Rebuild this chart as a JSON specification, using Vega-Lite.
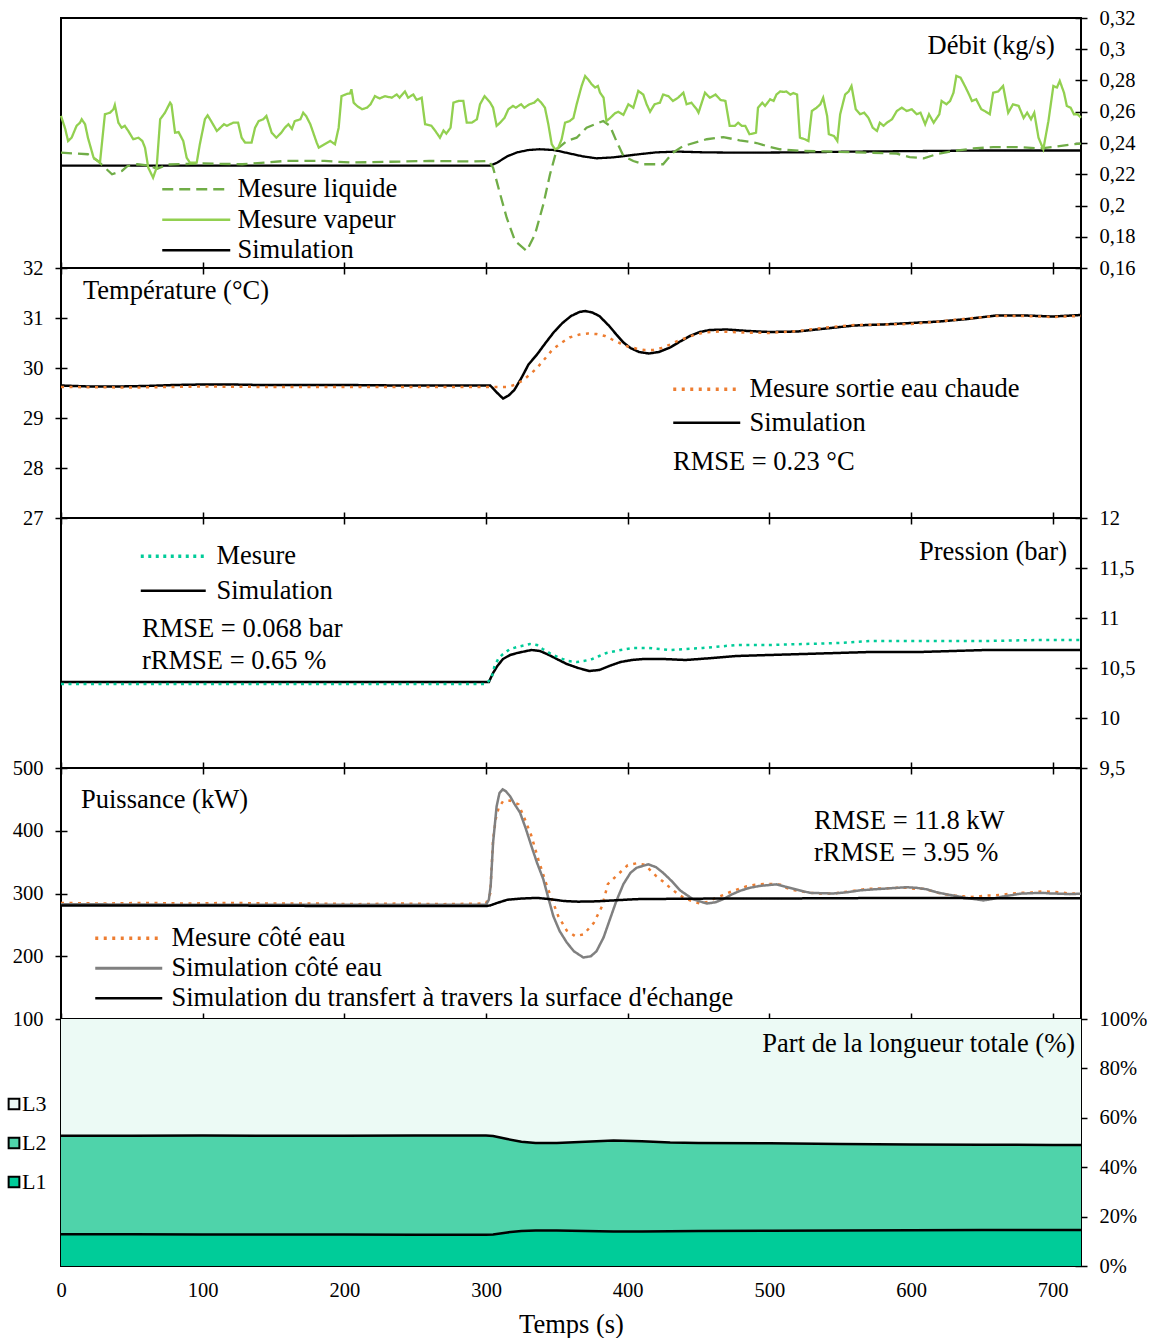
{
"$schema": "https://vega.github.io/schema/vega-lite/v6.json",
"background": "white",
"padding": {"left": 2, "top": 7, "right": 5, "bottom": 5},
"spacing": 0,
"bounds": "flush",
"config": {
  "font": "Liberation Serif",
  "view": {"stroke": "black", "strokeWidth": 2},
  "axis": {"labelFont": "Liberation Serif", "labelFontSize": 20.5, "labelColor": "black", "tickColor": "black", "tickWidth": 1.5, "tickSize": 12, "offset": -6, "grid": false, "domain": false, "labelPadding": 12, "labelOverlap": false, "titleFont": "Liberation Serif", "titleFontWeight": "normal", "titleColor": "black", "titleFontSize": 26.5},
  "legend": {"labelFont": "Liberation Serif", "labelFontSize": 26.5, "labelColor": "black", "padding": 0, "orient": "none", "labelLimit": 0},
  "text": {"font": "Liberation Serif", "fontSize": 26.5, "color": "black"}
},
"datasets": {
"debit": [
{"t":0,"v":0.2255,"s":"Simulation"},{"t":100,"v":0.2255,"s":"Simulation"},{"t":200,"v":0.2255,"s":"Simulation"},{"t":303,"v":0.2255,"s":"Simulation"},{"t":308,"v":0.2275,"s":"Simulation"},{"t":315,"v":0.2315,"s":"Simulation"},{"t":322,"v":0.234,"s":"Simulation"},{"t":330,"v":0.2355,"s":"Simulation"},{"t":338,"v":0.236,"s":"Simulation"},{"t":348,"v":0.2355,"s":"Simulation"},{"t":358,"v":0.2335,"s":"Simulation"},{"t":368,"v":0.2315,"s":"Simulation"},{"t":378,"v":0.2302,"s":"Simulation"},{"t":390,"v":0.2308,"s":"Simulation"},{"t":405,"v":0.2325,"s":"Simulation"},{"t":420,"v":0.234,"s":"Simulation"},{"t":435,"v":0.2345,"s":"Simulation"},{"t":455,"v":0.234,"s":"Simulation"},{"t":480,"v":0.2338,"s":"Simulation"},{"t":520,"v":0.234,"s":"Simulation"},{"t":560,"v":0.2345,"s":"Simulation"},{"t":600,"v":0.2348,"s":"Simulation"},{"t":650,"v":0.2352,"s":"Simulation"},{"t":700,"v":0.2352,"s":"Simulation"},{"t":720,"v":0.2352,"s":"Simulation"},
{"t":0,"v":0.2338,"s":"Mesure liquide"},{"t":19,"v":0.2328,"s":"Mesure liquide"},{"t":26,"v":0.2285,"s":"Mesure liquide"},{"t":31,"v":0.2242,"s":"Mesure liquide"},{"t":36,"v":0.22,"s":"Mesure liquide"},{"t":43,"v":0.2221,"s":"Mesure liquide"},{"t":47,"v":0.2253,"s":"Mesure liquide"},{"t":54,"v":0.2264,"s":"Mesure liquide"},{"t":62,"v":0.2255,"s":"Mesure liquide"},{"t":68,"v":0.2235,"s":"Mesure liquide"},{"t":75,"v":0.2262,"s":"Mesure liquide"},{"t":100,"v":0.2269,"s":"Mesure liquide"},{"t":128,"v":0.2264,"s":"Mesure liquide"},{"t":158,"v":0.2285,"s":"Mesure liquide"},{"t":186,"v":0.2285,"s":"Mesure liquide"},{"t":205,"v":0.2275,"s":"Mesure liquide"},{"t":232,"v":0.228,"s":"Mesure liquide"},{"t":260,"v":0.2285,"s":"Mesure liquide"},{"t":290,"v":0.2282,"s":"Mesure liquide"},{"t":302,"v":0.2285,"s":"Mesure liquide"},{"t":305,"v":0.2242,"s":"Mesure liquide"},{"t":310,"v":0.2072,"s":"Mesure liquide"},{"t":314.6,"v":0.1922,"s":"Mesure liquide"},{"t":320.5,"v":0.1773,"s":"Mesure liquide"},{"t":328.7,"v":0.1709,"s":"Mesure liquide"},{"t":334.6,"v":0.1816,"s":"Mesure liquide"},{"t":340.5,"v":0.2008,"s":"Mesure liquide"},{"t":345.2,"v":0.22,"s":"Mesure liquide"},{"t":350,"v":0.236,"s":"Mesure liquide"},{"t":357,"v":0.2413,"s":"Mesure liquide"},{"t":364,"v":0.2434,"s":"Mesure liquide"},{"t":371,"v":0.2498,"s":"Mesure liquide"},{"t":382.8,"v":0.2541,"s":"Mesure liquide"},{"t":387.5,"v":0.2509,"s":"Mesure liquide"},{"t":392,"v":0.2413,"s":"Mesure liquide"},{"t":397,"v":0.2317,"s":"Mesure liquide"},{"t":404,"v":0.2285,"s":"Mesure liquide"},{"t":411,"v":0.2264,"s":"Mesure liquide"},{"t":425,"v":0.2264,"s":"Mesure liquide"},{"t":432,"v":0.2338,"s":"Mesure liquide"},{"t":439,"v":0.238,"s":"Mesure liquide"},{"t":455.8,"v":0.2424,"s":"Mesure liquide"},{"t":467.5,"v":0.2438,"s":"Mesure liquide"},{"t":479,"v":0.2417,"s":"Mesure liquide"},{"t":491,"v":0.24,"s":"Mesure liquide"},{"t":500.6,"v":0.2374,"s":"Mesure liquide"},{"t":507.6,"v":0.236,"s":"Mesure liquide"},{"t":524,"v":0.2349,"s":"Mesure liquide"},{"t":548,"v":0.2344,"s":"Mesure liquide"},{"t":571,"v":0.2338,"s":"Mesure liquide"},{"t":590,"v":0.2332,"s":"Mesure liquide"},{"t":599,"v":0.231,"s":"Mesure liquide"},{"t":609,"v":0.2302,"s":"Mesure liquide"},{"t":618,"v":0.2328,"s":"Mesure liquide"},{"t":630,"v":0.2349,"s":"Mesure liquide"},{"t":644,"v":0.2365,"s":"Mesure liquide"},{"t":658,"v":0.2374,"s":"Mesure liquide"},{"t":677,"v":0.2374,"s":"Mesure liquide"},{"t":691,"v":0.2365,"s":"Mesure liquide"},{"t":700,"v":0.2374,"s":"Mesure liquide"},{"t":715,"v":0.2392,"s":"Mesure liquide"},{"t":720,"v":0.2396,"s":"Mesure liquide"},
{"t":0,"v":0.2573,"s":"Mesure vapeur"},{"t":3,"v":0.249,"s":"Mesure vapeur"},{"t":5,"v":0.2413,"s":"Mesure vapeur"},{"t":7.5,"v":0.2434,"s":"Mesure vapeur"},{"t":11,"v":0.251,"s":"Mesure vapeur"},{"t":13.4,"v":0.253,"s":"Mesure vapeur"},{"t":14.6,"v":0.2552,"s":"Mesure vapeur"},{"t":17,"v":0.252,"s":"Mesure vapeur"},{"t":19,"v":0.2434,"s":"Mesure vapeur"},{"t":23,"v":0.2306,"s":"Mesure vapeur"},{"t":27.5,"v":0.2274,"s":"Mesure vapeur"},{"t":31,"v":0.2584,"s":"Mesure vapeur"},{"t":34.6,"v":0.2594,"s":"Mesure vapeur"},{"t":37,"v":0.2616,"s":"Mesure vapeur"},{"t":38,"v":0.2643,"s":"Mesure vapeur"},{"t":40.5,"v":0.253,"s":"Mesure vapeur"},{"t":42.8,"v":0.2498,"s":"Mesure vapeur"},{"t":45,"v":0.251,"s":"Mesure vapeur"},{"t":47.5,"v":0.2477,"s":"Mesure vapeur"},{"t":51,"v":0.2424,"s":"Mesure vapeur"},{"t":54.6,"v":0.2434,"s":"Mesure vapeur"},{"t":57.4,"v":0.2413,"s":"Mesure vapeur"},{"t":59.3,"v":0.237,"s":"Mesure vapeur"},{"t":61.6,"v":0.2242,"s":"Mesure vapeur"},{"t":65,"v":0.2178,"s":"Mesure vapeur"},{"t":67.5,"v":0.2242,"s":"Mesure vapeur"},{"t":70,"v":0.2552,"s":"Mesure vapeur"},{"t":73.4,"v":0.2594,"s":"Mesure vapeur"},{"t":77,"v":0.2658,"s":"Mesure vapeur"},{"t":78,"v":0.2645,"s":"Mesure vapeur"},{"t":80.5,"v":0.2466,"s":"Mesure vapeur"},{"t":83,"v":0.247,"s":"Mesure vapeur"},{"t":86.3,"v":0.2413,"s":"Mesure vapeur"},{"t":88.7,"v":0.2306,"s":"Mesure vapeur"},{"t":91,"v":0.2274,"s":"Mesure vapeur"},{"t":95.8,"v":0.2274,"s":"Mesure vapeur"},{"t":98,"v":0.2392,"s":"Mesure vapeur"},{"t":101.6,"v":0.2552,"s":"Mesure vapeur"},{"t":103.5,"v":0.2577,"s":"Mesure vapeur"},{"t":106,"v":0.254,"s":"Mesure vapeur"},{"t":110,"v":0.2477,"s":"Mesure vapeur"},{"t":112.5,"v":0.2498,"s":"Mesure vapeur"},{"t":115,"v":0.252,"s":"Mesure vapeur"},{"t":117,"v":0.251,"s":"Mesure vapeur"},{"t":121.6,"v":0.253,"s":"Mesure vapeur"},{"t":125,"v":0.253,"s":"Mesure vapeur"},{"t":127.5,"v":0.2434,"s":"Mesure vapeur"},{"t":130,"v":0.2402,"s":"Mesure vapeur"},{"t":134.5,"v":0.2402,"s":"Mesure vapeur"},{"t":137,"v":0.2498,"s":"Mesure vapeur"},{"t":139.5,"v":0.254,"s":"Mesure vapeur"},{"t":142.8,"v":0.2552,"s":"Mesure vapeur"},{"t":145,"v":0.2573,"s":"Mesure vapeur"},{"t":148.7,"v":0.2466,"s":"Mesure vapeur"},{"t":152,"v":0.2434,"s":"Mesure vapeur"},{"t":155.5,"v":0.2466,"s":"Mesure vapeur"},{"t":158,"v":0.2498,"s":"Mesure vapeur"},{"t":160.5,"v":0.252,"s":"Mesure vapeur"},{"t":163,"v":0.249,"s":"Mesure vapeur"},{"t":165,"v":0.254,"s":"Mesure vapeur"},{"t":169,"v":0.2552,"s":"Mesure vapeur"},{"t":171,"v":0.2594,"s":"Mesure vapeur"},{"t":173,"v":0.2573,"s":"Mesure vapeur"},{"t":176,"v":0.252,"s":"Mesure vapeur"},{"t":180.5,"v":0.2402,"s":"Mesure vapeur"},{"t":182,"v":0.237,"s":"Mesure vapeur"},{"t":186,"v":0.2392,"s":"Mesure vapeur"},{"t":190,"v":0.2413,"s":"Mesure vapeur"},{"t":193.4,"v":0.2392,"s":"Mesure vapeur"},{"t":196,"v":0.2498,"s":"Mesure vapeur"},{"t":198,"v":0.27,"s":"Mesure vapeur"},{"t":202,"v":0.2715,"s":"Mesure vapeur"},{"t":204,"v":0.2717,"s":"Mesure vapeur"},{"t":205,"v":0.2744,"s":"Mesure vapeur"},{"t":206.6,"v":0.2658,"s":"Mesure vapeur"},{"t":209,"v":0.2637,"s":"Mesure vapeur"},{"t":212.5,"v":0.2616,"s":"Mesure vapeur"},{"t":216,"v":0.2626,"s":"Mesure vapeur"},{"t":218.5,"v":0.2648,"s":"Mesure vapeur"},{"t":221.6,"v":0.27,"s":"Mesure vapeur"},{"t":225,"v":0.2685,"s":"Mesure vapeur"},{"t":228.7,"v":0.27,"s":"Mesure vapeur"},{"t":233.4,"v":0.269,"s":"Mesure vapeur"},{"t":237,"v":0.271,"s":"Mesure vapeur"},{"t":239,"v":0.269,"s":"Mesure vapeur"},{"t":242.8,"v":0.273,"s":"Mesure vapeur"},{"t":245,"v":0.269,"s":"Mesure vapeur"},{"t":248.7,"v":0.271,"s":"Mesure vapeur"},{"t":251,"v":0.2676,"s":"Mesure vapeur"},{"t":254.6,"v":0.269,"s":"Mesure vapeur"},{"t":257,"v":0.252,"s":"Mesure vapeur"},{"t":261.5,"v":0.251,"s":"Mesure vapeur"},{"t":264,"v":0.248,"s":"Mesure vapeur"},{"t":267.5,"v":0.2434,"s":"Mesure vapeur"},{"t":270,"v":0.248,"s":"Mesure vapeur"},{"t":272,"v":0.246,"s":"Mesure vapeur"},{"t":275,"v":0.2498,"s":"Mesure vapeur"},{"t":277,"v":0.2658,"s":"Mesure vapeur"},{"t":280.6,"v":0.2669,"s":"Mesure vapeur"},{"t":284,"v":0.267,"s":"Mesure vapeur"},{"t":286.4,"v":0.253,"s":"Mesure vapeur"},{"t":290,"v":0.253,"s":"Mesure vapeur"},{"t":293.6,"v":0.2552,"s":"Mesure vapeur"},{"t":295.8,"v":0.2648,"s":"Mesure vapeur"},{"t":299,"v":0.27,"s":"Mesure vapeur"},{"t":303,"v":0.2658,"s":"Mesure vapeur"},{"t":305,"v":0.2626,"s":"Mesure vapeur"},{"t":307.5,"v":0.251,"s":"Mesure vapeur"},{"t":310,"v":0.253,"s":"Mesure vapeur"},{"t":313,"v":0.256,"s":"Mesure vapeur"},{"t":315.8,"v":0.2616,"s":"Mesure vapeur"},{"t":319,"v":0.2637,"s":"Mesure vapeur"},{"t":321,"v":0.2626,"s":"Mesure vapeur"},{"t":324.8,"v":0.2648,"s":"Mesure vapeur"},{"t":327,"v":0.2626,"s":"Mesure vapeur"},{"t":330.7,"v":0.2648,"s":"Mesure vapeur"},{"t":334,"v":0.2658,"s":"Mesure vapeur"},{"t":336.6,"v":0.268,"s":"Mesure vapeur"},{"t":339,"v":0.2658,"s":"Mesure vapeur"},{"t":341.6,"v":0.2626,"s":"Mesure vapeur"},{"t":344,"v":0.252,"s":"Mesure vapeur"},{"t":346.4,"v":0.2392,"s":"Mesure vapeur"},{"t":348.7,"v":0.236,"s":"Mesure vapeur"},{"t":351,"v":0.237,"s":"Mesure vapeur"},{"t":353.4,"v":0.2424,"s":"Mesure vapeur"},{"t":355.8,"v":0.253,"s":"Mesure vapeur"},{"t":359,"v":0.254,"s":"Mesure vapeur"},{"t":361.7,"v":0.256,"s":"Mesure vapeur"},{"t":364,"v":0.2648,"s":"Mesure vapeur"},{"t":367.5,"v":0.2765,"s":"Mesure vapeur"},{"t":370,"v":0.2829,"s":"Mesure vapeur"},{"t":372,"v":0.2808,"s":"Mesure vapeur"},{"t":374.6,"v":0.2776,"s":"Mesure vapeur"},{"t":377,"v":0.2755,"s":"Mesure vapeur"},{"t":379,"v":0.2765,"s":"Mesure vapeur"},{"t":380.5,"v":0.2722,"s":"Mesure vapeur"},{"t":383,"v":0.269,"s":"Mesure vapeur"},{"t":385,"v":0.254,"s":"Mesure vapeur"},{"t":387.6,"v":0.256,"s":"Mesure vapeur"},{"t":391,"v":0.259,"s":"Mesure vapeur"},{"t":393.4,"v":0.26,"s":"Mesure vapeur"},{"t":397,"v":0.258,"s":"Mesure vapeur"},{"t":400.5,"v":0.2648,"s":"Mesure vapeur"},{"t":404,"v":0.2626,"s":"Mesure vapeur"},{"t":407.5,"v":0.2733,"s":"Mesure vapeur"},{"t":411,"v":0.271,"s":"Mesure vapeur"},{"t":413.4,"v":0.2648,"s":"Mesure vapeur"},{"t":415.8,"v":0.26,"s":"Mesure vapeur"},{"t":419,"v":0.2648,"s":"Mesure vapeur"},{"t":422.8,"v":0.2658,"s":"Mesure vapeur"},{"t":425,"v":0.271,"s":"Mesure vapeur"},{"t":428.7,"v":0.27,"s":"Mesure vapeur"},{"t":432,"v":0.2669,"s":"Mesure vapeur"},{"t":435.6,"v":0.269,"s":"Mesure vapeur"},{"t":439.3,"v":0.2722,"s":"Mesure vapeur"},{"t":441.6,"v":0.2648,"s":"Mesure vapeur"},{"t":445,"v":0.2658,"s":"Mesure vapeur"},{"t":448.7,"v":0.2616,"s":"Mesure vapeur"},{"t":450,"v":0.2594,"s":"Mesure vapeur"},{"t":454.6,"v":0.2722,"s":"Mesure vapeur"},{"t":458,"v":0.269,"s":"Mesure vapeur"},{"t":462,"v":0.271,"s":"Mesure vapeur"},{"t":465.5,"v":0.2676,"s":"Mesure vapeur"},{"t":469,"v":0.2669,"s":"Mesure vapeur"},{"t":472,"v":0.251,"s":"Mesure vapeur"},{"t":475.7,"v":0.251,"s":"Mesure vapeur"},{"t":478,"v":0.253,"s":"Mesure vapeur"},{"t":480.5,"v":0.251,"s":"Mesure vapeur"},{"t":483,"v":0.251,"s":"Mesure vapeur"},{"t":486,"v":0.2456,"s":"Mesure vapeur"},{"t":490.6,"v":0.2466,"s":"Mesure vapeur"},{"t":492,"v":0.2626,"s":"Mesure vapeur"},{"t":495,"v":0.2658,"s":"Mesure vapeur"},{"t":497,"v":0.2637,"s":"Mesure vapeur"},{"t":500.6,"v":0.268,"s":"Mesure vapeur"},{"t":503,"v":0.2669,"s":"Mesure vapeur"},{"t":505,"v":0.271,"s":"Mesure vapeur"},{"t":507.6,"v":0.273,"s":"Mesure vapeur"},{"t":510,"v":0.2727,"s":"Mesure vapeur"},{"t":512,"v":0.273,"s":"Mesure vapeur"},{"t":514.8,"v":0.271,"s":"Mesure vapeur"},{"t":517,"v":0.272,"s":"Mesure vapeur"},{"t":519.6,"v":0.271,"s":"Mesure vapeur"},{"t":521.6,"v":0.2434,"s":"Mesure vapeur"},{"t":525,"v":0.2424,"s":"Mesure vapeur"},{"t":527.6,"v":0.2413,"s":"Mesure vapeur"},{"t":530,"v":0.2605,"s":"Mesure vapeur"},{"t":533.4,"v":0.2626,"s":"Mesure vapeur"},{"t":536,"v":0.2648,"s":"Mesure vapeur"},{"t":538,"v":0.269,"s":"Mesure vapeur"},{"t":540.8,"v":0.2573,"s":"Mesure vapeur"},{"t":542,"v":0.2456,"s":"Mesure vapeur"},{"t":545.6,"v":0.2445,"s":"Mesure vapeur"},{"t":548,"v":0.2413,"s":"Mesure vapeur"},{"t":550,"v":0.2584,"s":"Mesure vapeur"},{"t":553.5,"v":0.271,"s":"Mesure vapeur"},{"t":556,"v":0.273,"s":"Mesure vapeur"},{"t":558,"v":0.2765,"s":"Mesure vapeur"},{"t":561,"v":0.2616,"s":"Mesure vapeur"},{"t":564,"v":0.2584,"s":"Mesure vapeur"},{"t":567,"v":0.2594,"s":"Mesure vapeur"},{"t":570,"v":0.256,"s":"Mesure vapeur"},{"t":573,"v":0.2498,"s":"Mesure vapeur"},{"t":576,"v":0.2477,"s":"Mesure vapeur"},{"t":578,"v":0.253,"s":"Mesure vapeur"},{"t":580.6,"v":0.251,"s":"Mesure vapeur"},{"t":583,"v":0.253,"s":"Mesure vapeur"},{"t":586.6,"v":0.2552,"s":"Mesure vapeur"},{"t":590,"v":0.2605,"s":"Mesure vapeur"},{"t":593.5,"v":0.2626,"s":"Mesure vapeur"},{"t":597,"v":0.2605,"s":"Mesure vapeur"},{"t":600.6,"v":0.2616,"s":"Mesure vapeur"},{"t":604,"v":0.2584,"s":"Mesure vapeur"},{"t":606.7,"v":0.2594,"s":"Mesure vapeur"},{"t":610,"v":0.252,"s":"Mesure vapeur"},{"t":612.7,"v":0.2584,"s":"Mesure vapeur"},{"t":616,"v":0.253,"s":"Mesure vapeur"},{"t":620,"v":0.2584,"s":"Mesure vapeur"},{"t":621.6,"v":0.2669,"s":"Mesure vapeur"},{"t":625,"v":0.2648,"s":"Mesure vapeur"},{"t":627.6,"v":0.2669,"s":"Mesure vapeur"},{"t":630,"v":0.2722,"s":"Mesure vapeur"},{"t":632,"v":0.2829,"s":"Mesure vapeur"},{"t":635,"v":0.2818,"s":"Mesure vapeur"},{"t":638.6,"v":0.2755,"s":"Mesure vapeur"},{"t":641,"v":0.271,"s":"Mesure vapeur"},{"t":643,"v":0.2669,"s":"Mesure vapeur"},{"t":646,"v":0.268,"s":"Mesure vapeur"},{"t":649.6,"v":0.2616,"s":"Mesure vapeur"},{"t":652,"v":0.2605,"s":"Mesure vapeur"},{"t":655.6,"v":0.2584,"s":"Mesure vapeur"},{"t":658,"v":0.2722,"s":"Mesure vapeur"},{"t":661.6,"v":0.273,"s":"Mesure vapeur"},{"t":665,"v":0.2765,"s":"Mesure vapeur"},{"t":668.6,"v":0.2594,"s":"Mesure vapeur"},{"t":672,"v":0.2648,"s":"Mesure vapeur"},{"t":676,"v":0.2637,"s":"Mesure vapeur"},{"t":679.5,"v":0.256,"s":"Mesure vapeur"},{"t":682,"v":0.2594,"s":"Mesure vapeur"},{"t":684.7,"v":0.2552,"s":"Mesure vapeur"},{"t":687,"v":0.2594,"s":"Mesure vapeur"},{"t":690,"v":0.2434,"s":"Mesure vapeur"},{"t":693.4,"v":0.236,"s":"Mesure vapeur"},{"t":697,"v":0.254,"s":"Mesure vapeur"},{"t":700.5,"v":0.2765,"s":"Mesure vapeur"},{"t":703,"v":0.2755,"s":"Mesure vapeur"},{"t":705,"v":0.2797,"s":"Mesure vapeur"},{"t":708,"v":0.2722,"s":"Mesure vapeur"},{"t":710,"v":0.2637,"s":"Mesure vapeur"},{"t":712.7,"v":0.2626,"s":"Mesure vapeur"},{"t":715,"v":0.2584,"s":"Mesure vapeur"},{"t":717.6,"v":0.2584,"s":"Mesure vapeur"},{"t":720,"v":0.2562,"s":"Mesure vapeur"}
],
"temp": [
{"t":0,"v":29.65,"s":"Simulation"},{"t":20,"v":29.63,"s":"Simulation"},{"t":40,"v":29.63,"s":"Simulation"},{"t":60,"v":29.64,"s":"Simulation"},{"t":80,"v":29.66,"s":"Simulation"},{"t":100,"v":29.67,"s":"Simulation"},{"t":120,"v":29.67,"s":"Simulation"},{"t":140,"v":29.66,"s":"Simulation"},{"t":200,"v":29.66,"s":"Simulation"},{"t":240,"v":29.65,"s":"Simulation"},{"t":280,"v":29.65,"s":"Simulation"},{"t":303,"v":29.65,"s":"Simulation"},{"t":308,"v":29.5,"s":"Simulation"},{"t":312,"v":29.39,"s":"Simulation"},{"t":316,"v":29.45,"s":"Simulation"},{"t":320,"v":29.56,"s":"Simulation"},{"t":325,"v":29.8,"s":"Simulation"},{"t":330,"v":30.07,"s":"Simulation"},{"t":336,"v":30.27,"s":"Simulation"},{"t":342,"v":30.5,"s":"Simulation"},{"t":348,"v":30.72,"s":"Simulation"},{"t":354,"v":30.9,"s":"Simulation"},{"t":360,"v":31.04,"s":"Simulation"},{"t":366,"v":31.12,"s":"Simulation"},{"t":370,"v":31.14,"s":"Simulation"},{"t":375,"v":31.11,"s":"Simulation"},{"t":380,"v":31.04,"s":"Simulation"},{"t":387,"v":30.84,"s":"Simulation"},{"t":392,"v":30.67,"s":"Simulation"},{"t":397,"v":30.51,"s":"Simulation"},{"t":402,"v":30.4,"s":"Simulation"},{"t":408,"v":30.32,"s":"Simulation"},{"t":415,"v":30.29,"s":"Simulation"},{"t":422,"v":30.32,"s":"Simulation"},{"t":430,"v":30.41,"s":"Simulation"},{"t":437,"v":30.53,"s":"Simulation"},{"t":444,"v":30.64,"s":"Simulation"},{"t":451,"v":30.72,"s":"Simulation"},{"t":458,"v":30.76,"s":"Simulation"},{"t":470,"v":30.77,"s":"Simulation"},{"t":485,"v":30.74,"s":"Simulation"},{"t":500,"v":30.72,"s":"Simulation"},{"t":520,"v":30.73,"s":"Simulation"},{"t":540,"v":30.79,"s":"Simulation"},{"t":560,"v":30.85,"s":"Simulation"},{"t":580,"v":30.87,"s":"Simulation"},{"t":600,"v":30.9,"s":"Simulation"},{"t":620,"v":30.93,"s":"Simulation"},{"t":640,"v":30.98,"s":"Simulation"},{"t":660,"v":31.05,"s":"Simulation"},{"t":680,"v":31.05,"s":"Simulation"},{"t":700,"v":31.03,"s":"Simulation"},{"t":720,"v":31.06,"s":"Simulation"},
{"t":0,"v":29.62,"s":"Mesure sortie eau chaude"},{"t":50,"v":29.61,"s":"Mesure sortie eau chaude"},{"t":100,"v":29.63,"s":"Mesure sortie eau chaude"},{"t":150,"v":29.62,"s":"Mesure sortie eau chaude"},{"t":200,"v":29.62,"s":"Mesure sortie eau chaude"},{"t":250,"v":29.62,"s":"Mesure sortie eau chaude"},{"t":300,"v":29.62,"s":"Mesure sortie eau chaude"},{"t":315,"v":29.62,"s":"Mesure sortie eau chaude"},{"t":320,"v":29.66,"s":"Mesure sortie eau chaude"},{"t":326,"v":29.75,"s":"Mesure sortie eau chaude"},{"t":331,"v":29.87,"s":"Mesure sortie eau chaude"},{"t":336,"v":30.0,"s":"Mesure sortie eau chaude"},{"t":342,"v":30.2,"s":"Mesure sortie eau chaude"},{"t":347,"v":30.37,"s":"Mesure sortie eau chaude"},{"t":353,"v":30.5,"s":"Mesure sortie eau chaude"},{"t":359,"v":30.61,"s":"Mesure sortie eau chaude"},{"t":366,"v":30.67,"s":"Mesure sortie eau chaude"},{"t":372,"v":30.69,"s":"Mesure sortie eau chaude"},{"t":378,"v":30.68,"s":"Mesure sortie eau chaude"},{"t":384,"v":30.64,"s":"Mesure sortie eau chaude"},{"t":389,"v":30.57,"s":"Mesure sortie eau chaude"},{"t":395,"v":30.49,"s":"Mesure sortie eau chaude"},{"t":400,"v":30.43,"s":"Mesure sortie eau chaude"},{"t":406,"v":30.39,"s":"Mesure sortie eau chaude"},{"t":412,"v":30.36,"s":"Mesure sortie eau chaude"},{"t":418,"v":30.36,"s":"Mesure sortie eau chaude"},{"t":424,"v":30.4,"s":"Mesure sortie eau chaude"},{"t":430,"v":30.47,"s":"Mesure sortie eau chaude"},{"t":436,"v":30.55,"s":"Mesure sortie eau chaude"},{"t":442,"v":30.61,"s":"Mesure sortie eau chaude"},{"t":448,"v":30.67,"s":"Mesure sortie eau chaude"},{"t":454,"v":30.71,"s":"Mesure sortie eau chaude"},{"t":465,"v":30.73,"s":"Mesure sortie eau chaude"},{"t":480,"v":30.71,"s":"Mesure sortie eau chaude"},{"t":500,"v":30.7,"s":"Mesure sortie eau chaude"},{"t":520,"v":30.74,"s":"Mesure sortie eau chaude"},{"t":540,"v":30.81,"s":"Mesure sortie eau chaude"},{"t":560,"v":30.86,"s":"Mesure sortie eau chaude"},{"t":580,"v":30.87,"s":"Mesure sortie eau chaude"},{"t":600,"v":30.88,"s":"Mesure sortie eau chaude"},{"t":620,"v":30.93,"s":"Mesure sortie eau chaude"},{"t":640,"v":30.99,"s":"Mesure sortie eau chaude"},{"t":660,"v":31.04,"s":"Mesure sortie eau chaude"},{"t":680,"v":31.04,"s":"Mesure sortie eau chaude"},{"t":700,"v":31.02,"s":"Mesure sortie eau chaude"},{"t":720,"v":31.04,"s":"Mesure sortie eau chaude"}
],
"pres": [
{"t":0,"v":10.36,"s":"Simulation"},{"t":100,"v":10.36,"s":"Simulation"},{"t":200,"v":10.36,"s":"Simulation"},{"t":302,"v":10.36,"s":"Simulation"},{"t":305,"v":10.45,"s":"Simulation"},{"t":308,"v":10.52,"s":"Simulation"},{"t":312,"v":10.59,"s":"Simulation"},{"t":317,"v":10.63,"s":"Simulation"},{"t":322,"v":10.65,"s":"Simulation"},{"t":332,"v":10.68,"s":"Simulation"},{"t":338,"v":10.67,"s":"Simulation"},{"t":343,"v":10.64,"s":"Simulation"},{"t":350,"v":10.59,"s":"Simulation"},{"t":357,"v":10.54,"s":"Simulation"},{"t":365,"v":10.5,"s":"Simulation"},{"t":373,"v":10.47,"s":"Simulation"},{"t":380,"v":10.48,"s":"Simulation"},{"t":387,"v":10.52,"s":"Simulation"},{"t":395,"v":10.56,"s":"Simulation"},{"t":403,"v":10.58,"s":"Simulation"},{"t":411,"v":10.59,"s":"Simulation"},{"t":425,"v":10.59,"s":"Simulation"},{"t":441,"v":10.58,"s":"Simulation"},{"t":460,"v":10.6,"s":"Simulation"},{"t":477,"v":10.62,"s":"Simulation"},{"t":500,"v":10.63,"s":"Simulation"},{"t":524,"v":10.64,"s":"Simulation"},{"t":571,"v":10.66,"s":"Simulation"},{"t":606,"v":10.66,"s":"Simulation"},{"t":653,"v":10.68,"s":"Simulation"},{"t":690,"v":10.68,"s":"Simulation"},{"t":720,"v":10.68,"s":"Simulation"},
{"t":0,"v":10.34,"s":"Mesure"},{"t":100,"v":10.34,"s":"Mesure"},{"t":200,"v":10.34,"s":"Mesure"},{"t":300,"v":10.34,"s":"Mesure"},{"t":304,"v":10.4,"s":"Mesure"},{"t":306,"v":10.52,"s":"Mesure"},{"t":309,"v":10.6,"s":"Mesure"},{"t":312,"v":10.64,"s":"Mesure"},{"t":317,"v":10.69,"s":"Mesure"},{"t":322,"v":10.71,"s":"Mesure"},{"t":331,"v":10.74,"s":"Mesure"},{"t":336,"v":10.73,"s":"Mesure"},{"t":340,"v":10.69,"s":"Mesure"},{"t":346,"v":10.64,"s":"Mesure"},{"t":352,"v":10.6,"s":"Mesure"},{"t":358,"v":10.57,"s":"Mesure"},{"t":364,"v":10.56,"s":"Mesure"},{"t":369,"v":10.57,"s":"Mesure"},{"t":375,"v":10.59,"s":"Mesure"},{"t":380,"v":10.62,"s":"Mesure"},{"t":385,"v":10.65,"s":"Mesure"},{"t":395,"v":10.68,"s":"Mesure"},{"t":404,"v":10.7,"s":"Mesure"},{"t":415,"v":10.7,"s":"Mesure"},{"t":430,"v":10.68,"s":"Mesure"},{"t":453,"v":10.7,"s":"Mesure"},{"t":477,"v":10.73,"s":"Mesure"},{"t":500,"v":10.73,"s":"Mesure"},{"t":524,"v":10.74,"s":"Mesure"},{"t":550,"v":10.75,"s":"Mesure"},{"t":571,"v":10.77,"s":"Mesure"},{"t":600,"v":10.77,"s":"Mesure"},{"t":618,"v":10.77,"s":"Mesure"},{"t":653,"v":10.77,"s":"Mesure"},{"t":690,"v":10.78,"s":"Mesure"},{"t":720,"v":10.78,"s":"Mesure"}
],
"puis": [
{"t":0,"v":285,"s":"Mesure côté eau"},{"t":30,"v":284,"s":"Mesure côté eau"},{"t":60,"v":285,"s":"Mesure côté eau"},{"t":90,"v":284,"s":"Mesure côté eau"},{"t":120,"v":285,"s":"Mesure côté eau"},{"t":150,"v":284,"s":"Mesure côté eau"},{"t":180,"v":284,"s":"Mesure côté eau"},{"t":210,"v":283,"s":"Mesure côté eau"},{"t":240,"v":284,"s":"Mesure côté eau"},{"t":270,"v":283,"s":"Mesure côté eau"},{"t":300,"v":284,"s":"Mesure côté eau"},{"t":303,"v":300,"s":"Mesure côté eau"},{"t":305,"v":386,"s":"Mesure côté eau"},{"t":307,"v":420,"s":"Mesure côté eau"},{"t":309,"v":437,"s":"Mesure côté eau"},{"t":312,"v":447,"s":"Mesure côté eau"},{"t":317,"v":448,"s":"Mesure côté eau"},{"t":323,"v":442,"s":"Mesure côté eau"},{"t":327.5,"v":418,"s":"Mesure côté eau"},{"t":332,"v":392,"s":"Mesure côté eau"},{"t":337,"v":354,"s":"Mesure côté eau"},{"t":343,"v":312,"s":"Mesure côté eau"},{"t":351,"v":264,"s":"Mesure côté eau"},{"t":357,"v":241,"s":"Mesure côté eau"},{"t":363,"v":232,"s":"Mesure côté eau"},{"t":369,"v":235,"s":"Mesure côté eau"},{"t":376,"v":253,"s":"Mesure côté eau"},{"t":382,"v":280,"s":"Mesure côté eau"},{"t":386,"v":315,"s":"Mesure côté eau"},{"t":392,"v":328,"s":"Mesure côté eau"},{"t":400,"v":345,"s":"Mesure côté eau"},{"t":406,"v":348,"s":"Mesure côté eau"},{"t":412,"v":346,"s":"Mesure côté eau"},{"t":420,"v":328,"s":"Mesure côté eau"},{"t":425,"v":319,"s":"Mesure côté eau"},{"t":430,"v":309,"s":"Mesure côté eau"},{"t":435,"v":300,"s":"Mesure côté eau"},{"t":439,"v":294,"s":"Mesure côté eau"},{"t":445,"v":288,"s":"Mesure côté eau"},{"t":451,"v":284,"s":"Mesure côté eau"},{"t":457,"v":287,"s":"Mesure côté eau"},{"t":462,"v":293,"s":"Mesure côté eau"},{"t":468,"v":298,"s":"Mesure côté eau"},{"t":472,"v":302,"s":"Mesure côté eau"},{"t":478,"v":307,"s":"Mesure côté eau"},{"t":484,"v":311.5,"s":"Mesure côté eau"},{"t":490,"v":314,"s":"Mesure côté eau"},{"t":496,"v":315,"s":"Mesure côté eau"},{"t":502,"v":315,"s":"Mesure côté eau"},{"t":508,"v":314,"s":"Mesure côté eau"},{"t":512,"v":309,"s":"Mesure côté eau"},{"t":518,"v":305,"s":"Mesure côté eau"},{"t":524,"v":303,"s":"Mesure côté eau"},{"t":529,"v":301,"s":"Mesure côté eau"},{"t":535,"v":300,"s":"Mesure côté eau"},{"t":546,"v":300,"s":"Mesure côté eau"},{"t":552,"v":302,"s":"Mesure côté eau"},{"t":558,"v":303.6,"s":"Mesure côté eau"},{"t":564,"v":306,"s":"Mesure côté eau"},{"t":570,"v":307.4,"s":"Mesure côté eau"},{"t":580,"v":308,"s":"Mesure côté eau"},{"t":591,"v":309,"s":"Mesure côté eau"},{"t":597,"v":309,"s":"Mesure côté eau"},{"t":603,"v":307.4,"s":"Mesure côté eau"},{"t":609,"v":307.4,"s":"Mesure côté eau"},{"t":613,"v":305,"s":"Mesure côté eau"},{"t":619,"v":301,"s":"Mesure côté eau"},{"t":625,"v":298.3,"s":"Mesure côté eau"},{"t":631,"v":296.7,"s":"Mesure côté eau"},{"t":637,"v":295.6,"s":"Mesure côté eau"},{"t":643,"v":294.6,"s":"Mesure côté eau"},{"t":649,"v":295.6,"s":"Mesure côté eau"},{"t":653,"v":296.7,"s":"Mesure côté eau"},{"t":659,"v":297.2,"s":"Mesure côté eau"},{"t":665,"v":298.3,"s":"Mesure côté eau"},{"t":671,"v":300,"s":"Mesure côté eau"},{"t":677,"v":301,"s":"Mesure côté eau"},{"t":683,"v":301,"s":"Mesure côté eau"},{"t":689,"v":302.6,"s":"Mesure côté eau"},{"t":693,"v":303.6,"s":"Mesure côté eau"},{"t":699,"v":302.6,"s":"Mesure côté eau"},{"t":705,"v":302,"s":"Mesure côté eau"},{"t":711,"v":300,"s":"Mesure côté eau"},{"t":720,"v":300,"s":"Mesure côté eau"},
{"t":0,"v":283,"s":"Simulation côté eau"},{"t":100,"v":282,"s":"Simulation côté eau"},{"t":200,"v":282,"s":"Simulation côté eau"},{"t":300,"v":282,"s":"Simulation côté eau"},{"t":302,"v":290,"s":"Simulation côté eau"},{"t":303.3,"v":312,"s":"Simulation côté eau"},{"t":305,"v":381,"s":"Simulation côté eau"},{"t":307.5,"v":439,"s":"Simulation côté eau"},{"t":309.5,"v":460,"s":"Simulation côté eau"},{"t":311.8,"v":466,"s":"Simulation côté eau"},{"t":314,"v":463,"s":"Simulation côté eau"},{"t":317,"v":455,"s":"Simulation côté eau"},{"t":320,"v":443,"s":"Simulation côté eau"},{"t":324,"v":429,"s":"Simulation côté eau"},{"t":328,"v":404,"s":"Simulation côté eau"},{"t":332,"v":376,"s":"Simulation côté eau"},{"t":336,"v":349,"s":"Simulation côté eau"},{"t":340.4,"v":323,"s":"Simulation côté eau"},{"t":344,"v":293,"s":"Simulation côté eau"},{"t":347.5,"v":264,"s":"Simulation côté eau"},{"t":352,"v":240,"s":"Simulation côté eau"},{"t":357,"v":222,"s":"Simulation côté eau"},{"t":362,"v":208,"s":"Simulation côté eau"},{"t":368.7,"v":198,"s":"Simulation côté eau"},{"t":374,"v":200,"s":"Simulation côté eau"},{"t":378,"v":208,"s":"Simulation côté eau"},{"t":383,"v":230,"s":"Simulation côté eau"},{"t":387.5,"v":259,"s":"Simulation côté eau"},{"t":392,"v":288,"s":"Simulation côté eau"},{"t":397,"v":315,"s":"Simulation côté eau"},{"t":402,"v":333,"s":"Simulation côté eau"},{"t":406.3,"v":341,"s":"Simulation côté eau"},{"t":414.6,"v":346.5,"s":"Simulation côté eau"},{"t":420,"v":342,"s":"Simulation côté eau"},{"t":425,"v":333,"s":"Simulation côté eau"},{"t":431,"v":320,"s":"Simulation côté eau"},{"t":437,"v":305,"s":"Simulation côté eau"},{"t":446,"v":291,"s":"Simulation côté eau"},{"t":455.8,"v":284,"s":"Simulation côté eau"},{"t":462,"v":286,"s":"Simulation côté eau"},{"t":467.5,"v":291,"s":"Simulation côté eau"},{"t":473,"v":298,"s":"Simulation côté eau"},{"t":479,"v":304,"s":"Simulation côté eau"},{"t":486,"v":309,"s":"Simulation côté eau"},{"t":493,"v":312,"s":"Simulation côté eau"},{"t":505,"v":314.6,"s":"Simulation côté eau"},{"t":511,"v":311,"s":"Simulation côté eau"},{"t":517,"v":307.6,"s":"Simulation côté eau"},{"t":523,"v":304,"s":"Simulation côté eau"},{"t":529,"v":301,"s":"Simulation côté eau"},{"t":545,"v":300,"s":"Simulation côté eau"},{"t":555,"v":302,"s":"Simulation côté eau"},{"t":564,"v":305,"s":"Simulation côté eau"},{"t":573,"v":306.5,"s":"Simulation côté eau"},{"t":583,"v":308,"s":"Simulation côté eau"},{"t":597,"v":310,"s":"Simulation côté eau"},{"t":604,"v":309,"s":"Simulation côté eau"},{"t":611,"v":306.7,"s":"Simulation côté eau"},{"t":618,"v":302,"s":"Simulation côté eau"},{"t":625,"v":298.7,"s":"Simulation côté eau"},{"t":632,"v":296,"s":"Simulation côté eau"},{"t":639,"v":293,"s":"Simulation côté eau"},{"t":645,"v":291,"s":"Simulation côté eau"},{"t":651,"v":289,"s":"Simulation côté eau"},{"t":657,"v":291,"s":"Simulation côté eau"},{"t":663,"v":294.4,"s":"Simulation côté eau"},{"t":670,"v":297,"s":"Simulation côté eau"},{"t":677,"v":299.7,"s":"Simulation côté eau"},{"t":685,"v":300.5,"s":"Simulation côté eau"},{"t":693,"v":301,"s":"Simulation côté eau"},{"t":699,"v":300,"s":"Simulation côté eau"},{"t":705,"v":299.7,"s":"Simulation côté eau"},{"t":712,"v":299,"s":"Simulation côté eau"},{"t":720,"v":299.7,"s":"Simulation côté eau"},
{"t":0,"v":281,"s":"Simulation du transfert à travers la surface d'échange"},{"t":100,"v":281,"s":"Simulation du transfert à travers la surface d'échange"},{"t":200,"v":280,"s":"Simulation du transfert à travers la surface d'échange"},{"t":300,"v":280,"s":"Simulation du transfert à travers la surface d'échange"},{"t":303,"v":281,"s":"Simulation du transfert à travers la surface d'échange"},{"t":308,"v":285,"s":"Simulation du transfert à travers la surface d'échange"},{"t":315,"v":290,"s":"Simulation du transfert à travers la surface d'échange"},{"t":325,"v":292,"s":"Simulation du transfert à travers la surface d'échange"},{"t":336,"v":293,"s":"Simulation du transfert à travers la surface d'échange"},{"t":345,"v":291,"s":"Simulation du transfert à travers la surface d'échange"},{"t":355,"v":288,"s":"Simulation du transfert à travers la surface d'échange"},{"t":365,"v":287,"s":"Simulation du transfert à travers la surface d'échange"},{"t":378,"v":287.5,"s":"Simulation du transfert à travers la surface d'échange"},{"t":390,"v":289,"s":"Simulation du transfert à travers la surface d'échange"},{"t":406,"v":291,"s":"Simulation du transfert à travers la surface d'échange"},{"t":430,"v":291.5,"s":"Simulation du transfert à travers la surface d'échange"},{"t":465,"v":292,"s":"Simulation du transfert à travers la surface d'échange"},{"t":500,"v":292,"s":"Simulation du transfert à travers la surface d'échange"},{"t":550,"v":292.5,"s":"Simulation du transfert à travers la surface d'échange"},{"t":600,"v":293,"s":"Simulation du transfert à travers la surface d'échange"},{"t":650,"v":292.5,"s":"Simulation du transfert à travers la surface d'échange"},{"t":720,"v":292.5,"s":"Simulation du transfert à travers la surface d'échange"}
],
"part": [
{"t":0,"k":"L1","p":12.9},{"t":50,"k":"L1","p":12.9},{"t":100,"k":"L1","p":12.8},{"t":150,"k":"L1","p":12.8},{"t":200,"k":"L1","p":12.8},{"t":250,"k":"L1","p":12.7},{"t":300,"k":"L1","p":12.7},{"t":305,"k":"L1","p":12.8},{"t":315,"k":"L1","p":13.6},{"t":325,"k":"L1","p":14.2},{"t":335,"k":"L1","p":14.4},{"t":350,"k":"L1","p":14.4},{"t":370,"k":"L1","p":14.2},{"t":390,"k":"L1","p":14.0},{"t":410,"k":"L1","p":14.0},{"t":430,"k":"L1","p":14.1},{"t":450,"k":"L1","p":14.2},{"t":500,"k":"L1","p":14.3},{"t":550,"k":"L1","p":14.4},{"t":600,"k":"L1","p":14.5},{"t":650,"k":"L1","p":14.6},{"t":700,"k":"L1","p":14.6},{"t":720,"k":"L1","p":14.6},
{"t":0,"k":"L2","p":39.8},{"t":50,"k":"L2","p":39.8},{"t":100,"k":"L2","p":40.0},{"t":150,"k":"L2","p":39.9},{"t":200,"k":"L2","p":39.9},{"t":250,"k":"L2","p":40.1},{"t":300,"k":"L2","p":40.1},{"t":305,"k":"L2","p":39.8},{"t":315,"k":"L2","p":37.8},{"t":325,"k":"L2","p":36.1},{"t":335,"k":"L2","p":35.4},{"t":350,"k":"L2","p":35.4},{"t":370,"k":"L2","p":36.1},{"t":390,"k":"L2","p":36.8},{"t":410,"k":"L2","p":36.5},{"t":430,"k":"L2","p":35.9},{"t":450,"k":"L2","p":35.6},{"t":500,"k":"L2","p":35.4},{"t":550,"k":"L2","p":35.0},{"t":600,"k":"L2","p":34.7},{"t":650,"k":"L2","p":34.5},{"t":700,"k":"L2","p":34.4},{"t":720,"k":"L2","p":34.4},
{"t":0,"k":"L3","p":47.3},{"t":50,"k":"L3","p":47.3},{"t":100,"k":"L3","p":47.2},{"t":150,"k":"L3","p":47.3},{"t":200,"k":"L3","p":47.3},{"t":250,"k":"L3","p":47.2},{"t":300,"k":"L3","p":47.2},{"t":305,"k":"L3","p":47.4},{"t":315,"k":"L3","p":48.6},{"t":325,"k":"L3","p":49.7},{"t":335,"k":"L3","p":50.2},{"t":350,"k":"L3","p":50.2},{"t":370,"k":"L3","p":49.7},{"t":390,"k":"L3","p":49.2},{"t":410,"k":"L3","p":49.5},{"t":430,"k":"L3","p":50.0},{"t":450,"k":"L3","p":50.2},{"t":500,"k":"L3","p":50.3},{"t":550,"k":"L3","p":50.6},{"t":600,"k":"L3","p":50.8},{"t":650,"k":"L3","p":50.9},{"t":700,"k":"L3","p":51.0},{"t":720,"k":"L3","p":51.0}
],
"partLines": [
{"t":0,"b":"a","p":12.9},{"t":50,"b":"a","p":12.9},{"t":100,"b":"a","p":12.8},{"t":150,"b":"a","p":12.8},{"t":200,"b":"a","p":12.8},{"t":250,"b":"a","p":12.7},{"t":300,"b":"a","p":12.7},{"t":305,"b":"a","p":12.8},{"t":315,"b":"a","p":13.6},{"t":325,"b":"a","p":14.2},{"t":335,"b":"a","p":14.4},{"t":350,"b":"a","p":14.4},{"t":370,"b":"a","p":14.2},{"t":390,"b":"a","p":14.0},{"t":410,"b":"a","p":14.0},{"t":430,"b":"a","p":14.1},{"t":450,"b":"a","p":14.2},{"t":500,"b":"a","p":14.3},{"t":550,"b":"a","p":14.4},{"t":600,"b":"a","p":14.5},{"t":650,"b":"a","p":14.6},{"t":700,"b":"a","p":14.6},{"t":720,"b":"a","p":14.6},
{"t":0,"b":"b","p":52.7},{"t":50,"b":"b","p":52.7},{"t":100,"b":"b","p":52.8},{"t":150,"b":"b","p":52.7},{"t":200,"b":"b","p":52.7},{"t":250,"b":"b","p":52.8},{"t":300,"b":"b","p":52.8},{"t":305,"b":"b","p":52.6},{"t":315,"b":"b","p":51.4},{"t":325,"b":"b","p":50.3},{"t":335,"b":"b","p":49.8},{"t":350,"b":"b","p":49.8},{"t":370,"b":"b","p":50.3},{"t":390,"b":"b","p":50.8},{"t":410,"b":"b","p":50.5},{"t":430,"b":"b","p":50.0},{"t":450,"b":"b","p":49.8},{"t":500,"b":"b","p":49.7},{"t":550,"b":"b","p":49.4},{"t":600,"b":"b","p":49.2},{"t":650,"b":"b","p":49.1},{"t":700,"b":"b","p":49.0},{"t":720,"b":"b","p":49.0}
]
},
"vconcat": [
{
 "width": 1020, "height": 250,
 "layer": [
  {"data": {"name": "debit"},
   "mark": {"type": "line", "strokeWidth": 2.3},
   "encoding": {
    "x": {"field": "t", "type": "quantitative", "scale": {"domain": [0, 720], "nice": false}, "axis": {"values": [0,100,200,300,400,500,600,700], "labels": false, "title": null}},
    "y": {"field": "v", "type": "quantitative", "scale": {"domain": [0.16, 0.32], "nice": false, "zero": false}, "axis": {"orient": "right", "title": null, "values": [0.16,0.18,0.2,0.22,0.24,0.26,0.28,0.3,0.32], "tickCount": 20, "labelExpr": "replace(format(datum.value, '.2~f'), '.', ',')", "labelOverlap": false}},
    "color": {"field": "s", "type": "nominal", "scale": {"domain": ["Mesure liquide", "Mesure vapeur", "Simulation"], "range": ["#70AD47", "#92D050", "#000000"]}, "legend": {"title": null, "symbolType": "M-3,0H3", "symbolSize": 514, "symbolStrokeWidth": 2.5, "labelOffset": 28, "rowPadding": 3.5, "legendX": 122, "legendY": 158}},
    "strokeDash": {"field": "s", "type": "nominal", "scale": {"domain": ["Mesure liquide", "Mesure vapeur", "Simulation"], "range": [[11, 6], [1, 0], [1, 0]]}, "legend": {"title": null, "symbolType": "M-3,0H3", "symbolSize": 514, "symbolStrokeWidth": 2.5, "labelOffset": 28, "rowPadding": 3.5, "legendX": 122, "legendY": 158}}
   }
  },
  {"data": {"values": [{}]},
   "mark": {"type": "text", "align": "right", "baseline": "middle"},
   "encoding": {"x": {"datum": 701.6, "type": "quantitative"}, "y": {"datum": 0.3021, "type": "quantitative"}, "text": {"value": "Débit (kg/s)"}}
  }
 ]
},
{
 "width": 1020, "height": 250,
 "layer": [
  {"data": {"name": "temp"},
   "mark": {"type": "line", "strokeWidth": 2.5},
   "encoding": {
    "x": {"field": "t", "type": "quantitative", "scale": {"domain": [0, 720], "nice": false}, "axis": {"values": [0,100,200,300,400,500,600,700], "labels": false, "title": null}},
    "y": {"field": "v", "type": "quantitative", "scale": {"domain": [27, 32], "nice": false, "zero": false}, "axis": {"orient": "left", "title": null, "values": [27,28,29,30,31,32], "tickCount": 20, "format": "d"}},
    "color": {"field": "s", "type": "nominal", "scale": {"domain": ["Mesure sortie eau chaude", "Simulation"], "range": ["#ED7D31", "#000000"]}, "legend": {"title": null, "symbolType": "M-3,0H3", "symbolSize": 499, "symbolStrokeWidth": 3, "labelOffset": 29.5, "rowPadding": 6.5, "legendX": 632.5, "legendY": 108}},
    "strokeDash": {"field": "s", "type": "nominal", "scale": {"domain": ["Mesure sortie eau chaude", "Simulation"], "range": [[3, 5.5], [1, 0]]}, "legend": {"title": null, "symbolType": "M-3,0H3", "symbolSize": 499, "symbolStrokeWidth": 3, "labelOffset": 29.5, "rowPadding": 6.5, "legendX": 632.5, "legendY": 108}},
    "strokeWidth": {"field": "s", "type": "nominal", "scale": {"domain": ["Mesure sortie eau chaude", "Simulation"], "range": [3.5, 2.5]}, "legend": null}
   }
  },
  {"data": {"values": [{}]},
   "mark": {"type": "text", "align": "left", "baseline": "middle"},
   "encoding": {"x": {"datum": 15.5, "type": "quantitative"}, "y": {"datum": 31.54, "type": "quantitative"}, "text": {"value": "Température (°C)"}}
  },
  {"data": {"values": [{}]},
   "mark": {"type": "text", "align": "left", "baseline": "middle"},
   "encoding": {"x": {"datum": 432, "type": "quantitative"}, "y": {"datum": 28.12, "type": "quantitative"}, "text": {"value": "RMSE = 0.23 °C"}}
  }
 ]
},
{
 "width": 1020, "height": 250,
 "layer": [
  {"data": {"name": "pres"},
   "mark": {"type": "line", "strokeWidth": 2.5},
   "encoding": {
    "x": {"field": "t", "type": "quantitative", "scale": {"domain": [0, 720], "nice": false}, "axis": {"values": [0,100,200,300,400,500,600,700], "labels": false, "title": null}},
    "y": {"field": "v", "type": "quantitative", "scale": {"domain": [9.5, 12], "nice": false, "zero": false}, "axis": {"orient": "right", "title": null, "values": [9.5,10,10.5,11,11.5,12], "tickCount": 20, "labelExpr": "replace(format(datum.value, '.1~f'), '.', ',')"}},
    "color": {"field": "s", "type": "nominal", "scale": {"domain": ["Mesure", "Simulation"], "range": ["#00CC99", "#000000"]}, "legend": {"title": null, "symbolType": "M-3,0H3", "symbolSize": 469, "symbolStrokeWidth": 3, "labelOffset": 30, "rowPadding": 7.5, "legendX": 99, "legendY": 25}},
    "strokeDash": {"field": "s", "type": "nominal", "scale": {"domain": ["Mesure", "Simulation"], "range": [[3, 4.5], [1, 0]]}, "legend": {"title": null, "symbolType": "M-3,0H3", "symbolSize": 469, "symbolStrokeWidth": 3, "labelOffset": 30, "rowPadding": 7.5, "legendX": 99, "legendY": 25}},
    "strokeWidth": {"field": "s", "type": "nominal", "scale": {"domain": ["Mesure", "Simulation"], "range": [3.5, 2.5]}, "legend": null}
   }
  },
  {"data": {"values": [{}]},
   "mark": {"type": "text", "align": "right", "baseline": "middle"},
   "encoding": {"x": {"datum": 710.1, "type": "quantitative"}, "y": {"datum": 11.66, "type": "quantitative"}, "text": {"value": "Pression (bar)"}}
  },
  {"data": {"values": [{}]},
   "mark": {"type": "text", "align": "left", "baseline": "middle"},
   "encoding": {"x": {"datum": 57.2, "type": "quantitative"}, "y": {"datum": 10.89, "type": "quantitative"}, "text": {"value": "RMSE = 0.068 bar"}}
  },
  {"data": {"values": [{}]},
   "mark": {"type": "text", "align": "left", "baseline": "middle"},
   "encoding": {"x": {"datum": 57.2, "type": "quantitative"}, "y": {"datum": 10.57, "type": "quantitative"}, "text": {"value": "rRMSE = 0.65 %"}}
  }
 ]
},
{
 "width": 1020, "height": 251,
 "layer": [
  {"data": {"name": "puis"},
   "mark": {"type": "line", "strokeWidth": 2.5},
   "encoding": {
    "x": {"field": "t", "type": "quantitative", "scale": {"domain": [0, 720], "nice": false}, "axis": {"values": [0,100,200,300,400,500,600,700], "labels": false, "title": null}},
    "y": {"field": "v", "type": "quantitative", "scale": {"domain": [100, 500], "nice": false, "zero": false}, "axis": {"orient": "left", "title": null, "values": [100,200,300,400,500], "tickCount": 20, "format": "d"}},
    "color": {"field": "s", "type": "nominal", "scale": {"domain": ["Mesure côté eau", "Simulation côté eau", "Simulation du transfert à travers la surface d'échange"], "range": ["#ED7D31", "#808080", "#000000"]}, "legend": {"title": null, "symbolType": "M-3,0H3", "symbolSize": 499, "symbolStrokeWidth": 3, "labelOffset": 29.5, "rowPadding": 3, "legendX": 54.5, "legendY": 157}},
    "strokeDash": {"field": "s", "type": "nominal", "scale": {"domain": ["Mesure côté eau", "Simulation côté eau", "Simulation du transfert à travers la surface d'échange"], "range": [[3, 5.5], [1, 0], [1, 0]]}, "legend": {"title": null, "symbolType": "M-3,0H3", "symbolSize": 499, "symbolStrokeWidth": 3, "labelOffset": 29.5, "rowPadding": 3, "legendX": 54.5, "legendY": 157}},
    "strokeWidth": {"field": "s", "type": "nominal", "scale": {"domain": ["Mesure côté eau", "Simulation côté eau", "Simulation du transfert à travers la surface d'échange"], "range": [3.5, 2.5, 2.5]}, "legend": null}
   }
  },
  {"data": {"values": [{}]},
   "mark": {"type": "text", "align": "left", "baseline": "middle"},
   "encoding": {"x": {"datum": 14.1, "type": "quantitative"}, "y": {"datum": 449, "type": "quantitative"}, "text": {"value": "Puissance (kW)"}}
  },
  {"data": {"values": [{}]},
   "mark": {"type": "text", "align": "left", "baseline": "middle"},
   "encoding": {"x": {"datum": 531.5, "type": "quantitative"}, "y": {"datum": 415.5, "type": "quantitative"}, "text": {"value": "RMSE = 11.8 kW"}}
  },
  {"data": {"values": [{}]},
   "mark": {"type": "text", "align": "left", "baseline": "middle"},
   "encoding": {"x": {"datum": 531.5, "type": "quantitative"}, "y": {"datum": 364.5, "type": "quantitative"}, "text": {"value": "rRMSE = 3.95 %"}}
  }
 ]
},
{
 "width": 1020, "height": 247,
 "layer": [
  {"data": {"name": "part"},
   "mark": {"type": "area"},
   "encoding": {
    "x": {"field": "t", "type": "quantitative", "scale": {"domain": [0, 720], "nice": false}, "axis": {"values": [0,100,200,300,400,500,600,700], "labels": true, "title": "Temps (s)", "labelFlush": false, "offset": -7, "tickSize": 7, "labelPadding": 14, "titlePadding": 11}},
    "y": {"field": "p", "type": "quantitative", "stack": "zero", "scale": {"domain": [0, 100], "nice": false}, "axis": {"orient": "right", "title": null, "values": [0,20,40,60,80,100], "tickCount": 20, "labelExpr": "datum.value + '%'"}},
    "color": {"field": "k", "type": "nominal", "scale": {"domain": ["L3", "L2", "L1"], "range": ["#ecfaf5", "#4fd3aa", "#00CC99"]}, "legend": {"title": null, "symbolType": "square", "symbolSize": 115, "symbolStrokeColor": "black", "symbolStrokeWidth": 2, "labelFontSize": 22, "labelOffset": -3, "rowPadding": 17, "legendX": -58, "legendY": 74}},
    "order": {"field": "k", "sort": "ascending"}
   }
  },
  {"data": {"name": "partLines"},
   "mark": {"type": "line", "color": "black", "strokeWidth": 2.5},
   "encoding": {
    "x": {"field": "t", "type": "quantitative"},
    "y": {"field": "p", "type": "quantitative"},
    "detail": {"field": "b", "type": "nominal"}
   }
  },
  {"data": {"values": [{}]},
   "mark": {"type": "text", "align": "right", "baseline": "middle"},
   "encoding": {"x": {"datum": 715.8, "type": "quantitative"}, "y": {"datum": 89.9, "type": "quantitative"}, "text": {"value": "Part de la longueur totale (%)"}}
  }
 ]
}
],
"resolve": {"scale": {"x": "independent", "y": "independent", "color": "independent", "strokeDash": "independent", "strokeWidth": "independent"}}
}
